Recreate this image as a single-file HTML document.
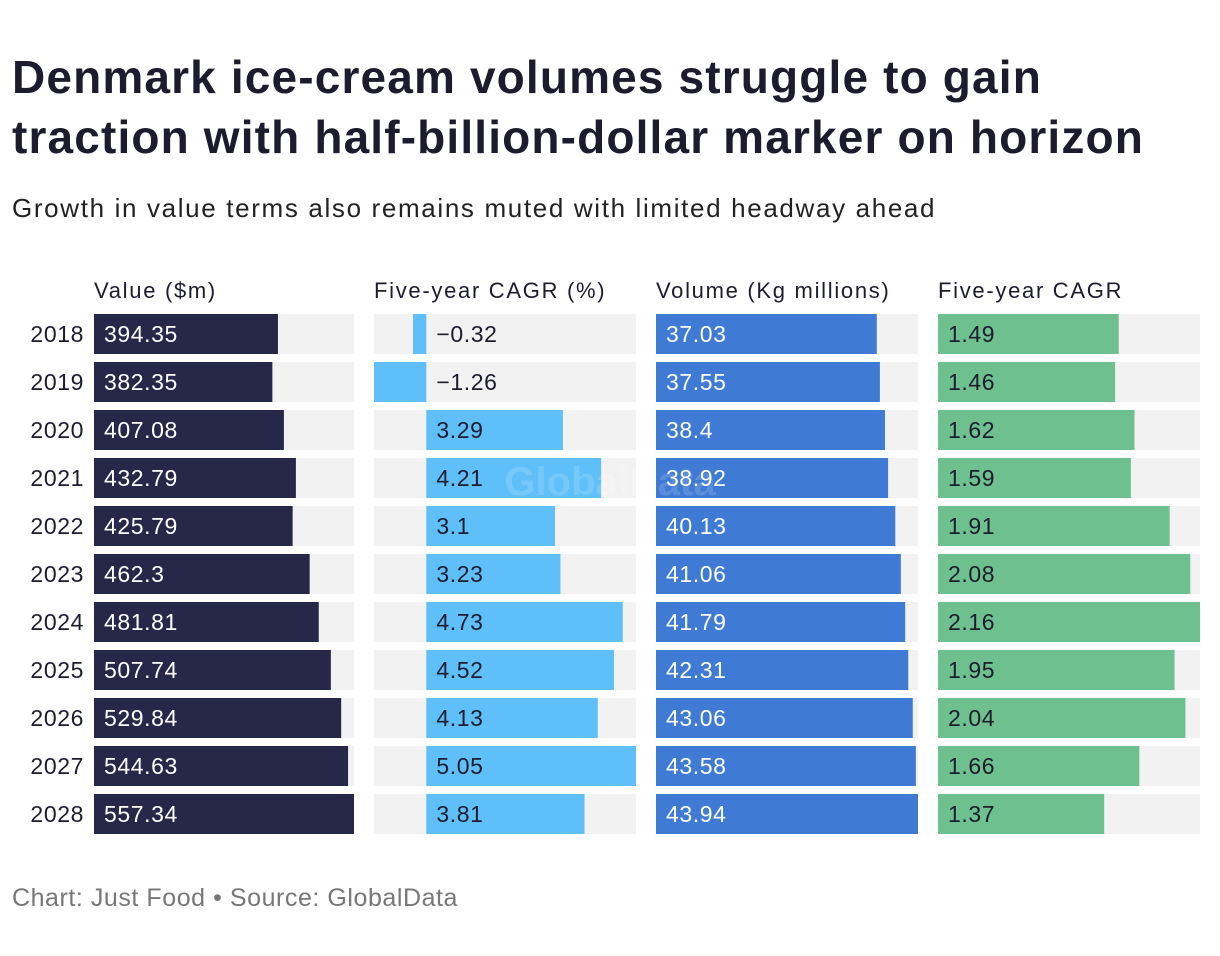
<!DOCTYPE html>
<html><head><meta charset="utf-8"><style>
body{margin:0;background:#fff;width:1220px;height:956px;overflow:hidden;font-family:"Liberation Sans",sans-serif;color:#1c1c2e;}
#title{position:absolute;left:12px;top:47px;font-size:46px;font-weight:bold;line-height:60px;letter-spacing:1.15px;white-space:nowrap;}
#sub{position:absolute;left:12px;top:193px;font-size:26px;color:#222;letter-spacing:1.65px;white-space:nowrap;}
#foot{position:absolute;left:12px;top:884px;font-size:25px;color:#777;letter-spacing:0.55px;}
svg{position:absolute;left:0;top:0;}
</style></head><body>
<div id="title">Denmark ice-cream volumes struggle to gain<br>traction with half-billion-dollar marker on horizon</div>
<div id="sub">Growth in value terms also remains muted with limited headway ahead</div>
<div id="foot">Chart: Just Food • Source: GlobalData</div>
<svg id="chart" width="1220" height="956"></svg>
<script>
const years=[2018,2019,2020,2021,2022,2023,2024,2025,2026,2027,2028];
const valueM=[394.35,382.35,407.08,432.79,425.79,462.3,481.81,507.74,529.84,544.63,557.34];
const valueCagr=[-0.32,-1.26,3.29,4.21,3.1,3.23,4.73,4.52,4.13,5.05,3.81];
const volume=[37.03,37.55,38.4,38.92,40.13,41.06,41.79,42.31,43.06,43.58,43.94];
const volumeCagr=[1.49,1.46,1.62,1.59,1.91,2.08,2.16,1.95,2.04,1.66,1.37];
const headers=["Value ($m)","Five-year CAGR (%)","Volume (Kg millions)","Five-year CAGR"];
const svg=document.getElementById('chart');const NS='http://www.w3.org/2000/svg';
function mk(t,a,p){const e=document.createElementNS(NS,t);for(const k in a)e.setAttribute(k,a[k]);(p||svg).appendChild(e);return e;}
const cols=[
 {x:94,w:260,data:valueM,color:'#27274a',txt:'#fff',name:'value'},
 {x:374,w:262,data:valueCagr,color:'#5fbff8',txt:'#1c1c2e',name:'value-cagr'},
 {x:656,w:262,data:volume,color:'#3f7bd4',txt:'#fff',name:'volume'},
 {x:938,w:262,data:volumeCagr,color:'#6fc08f',txt:'#1c1c2e',name:'volume-cagr'}];
const rowY=i=>314+i*48;
cols.forEach((c,ci)=>{
 const mn=Math.min(0,...c.data),mx=Math.max(0,...c.data);
 const sx=v=>c.x+(v-mn)/(mx-mn)*c.w;
 const h=mk('text',{x:c.x,y:298,'font-size':22,fill:'#1c1c2e','letter-spacing':1.7});h.textContent=headers[ci];
 
 
 c.data.forEach((v,i)=>{
  const y=rowY(i);
  const bg=mk('rect',{x:c.x,y:y,width:c.w,height:40,fill:'#f2f2f2'});
  
  
  const x0=sx(0),x1=sx(v);
  const r=mk('rect',{x:Math.min(x0,x1),y:y,width:Math.abs(x1-x0),height:40,fill:c.color});
  
  
  const t=mk('text',{x:x0+10,y:y+28,'font-size':23,fill:c.txt,'letter-spacing':0.6});
  t.textContent=(v<0?'\u2212'+Math.abs(v):String(v));
  
  
 });
});
years.forEach((yr,i)=>{
 const t=mk('text',{x:84,y:rowY(i)+28,'font-size':23,'text-anchor':'end',fill:'#1c1c2e','letter-spacing':0.6});t.textContent=yr;
 
 
});
const w=mk('text',{x:610,y:495,'font-size':40,'font-weight':'bold','text-anchor':'middle',fill:'#ffffff','fill-opacity':0.15});w.textContent='GlobalData';


</script>
</body></html>
